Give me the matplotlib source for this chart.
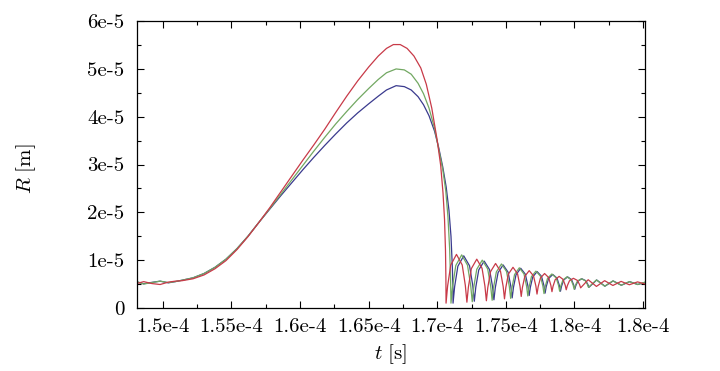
"""
Bubble radius R(t) for three runs - gnuplot-style figure redone in matplotlib
"""

import numpy as np
import matplotlib
matplotlib.use("Agg")
import matplotlib.pyplot as plt
from matplotlib.ticker import MultipleLocator

# ---- data: (t [us], R [um]) ----
red_growth = [
    (148.1, 5.1), (148.6, 5.5), (149.2, 5.1), (149.8, 4.9), (150.4, 5.4), (150.9, 5.6), (151.4, 5.7),
    (152.2, 6.1), (153.0, 6.9), (153.8, 8.2), (154.6, 9.9), (155.4, 12.2), (156.2, 14.9), (157.0, 17.9),
    (157.8, 21.0), (158.6, 24.3), (159.4, 27.6), (160.2, 30.9), (161.0, 34.1), (161.8, 37.4),
    (162.6, 40.9), (163.4, 44.3), (164.2, 47.5), (165.0, 50.4), (165.7, 52.7), (166.3, 54.3),
    (166.8, 55.1), (167.3, 55.1), (167.8, 54.3), (168.3, 52.7), (168.8, 50.2), (169.2, 46.8),
    (169.6, 41.8), (170.0, 35.0), (170.25, 29.8), (170.42, 24.0), (170.53, 18.5), (170.6, 12.0),
    (170.63, 6.0), (170.64, 1.0),
]
red_rebounds = [
    (170.754, 4.57), (170.982, 8.96), (171.40, 11.2), (171.818, 9.0), (172.046, 4.7), (172.16, 1.2),
    (172.268, 4.35), (172.484, 8.22), (172.88, 10.2), (173.265, 8.29), (173.475, 4.55), (173.58, 1.5),
    (173.681, 4.23), (173.882, 7.58), (174.25, 9.3), (174.608, 7.67), (174.803, 4.49), (174.90, 1.9),
    (174.993, 4.21), (175.179, 7.05), (175.52, 8.5), (175.85, 7.16), (176.03, 4.54), (176.12, 2.4),
    (176.207, 4.29), (176.381, 6.61), (176.70, 7.8), (177.014, 6.72), (177.185, 4.62), (177.27, 2.9),
    (177.353, 4.41), (177.518, 6.25), (177.82, 7.2), (178.117, 6.36), (178.279, 4.73), (178.36, 3.4),
    (178.438, 4.52), (178.594, 5.9), (178.88, 6.6), (179.166, 5.98), (179.322, 4.78), (179.40, 3.8),
    (179.478, 4.64), (179.634, 5.67), (179.92, 6.2), (180.212, 5.76), (180.371, 4.9), (180.45, 4.2),
    (181.0, 5.9), (181.6, 4.5), (182.2, 5.7), (182.8, 4.7), (183.4, 5.55), (184.0, 4.85),
    (184.6, 5.45), (185.15, 5.0),
]

green_growth = [
    (148.1, 5.5), (148.6, 5.0), (149.2, 5.3), (149.8, 5.6), (150.4, 5.3), (150.9, 5.5), (151.4, 5.8),
    (152.2, 6.3), (153.0, 7.2), (153.8, 8.5), (154.6, 10.2), (155.4, 12.4), (156.2, 15.0), (157.0, 17.9),
    (157.8, 20.8), (158.6, 23.8), (159.4, 26.8), (160.2, 29.8), (161.0, 32.8), (161.8, 35.7),
    (162.6, 38.5), (163.4, 41.1), (164.2, 43.6), (165.0, 45.9), (165.7, 47.8), (166.3, 49.2),
    (167.0, 50.0), (167.6, 49.8), (168.1, 48.9), (168.6, 47.0), (169.0, 44.8), (169.4, 41.8),
    (169.8, 37.6), (170.1, 33.3), (170.4, 29.0), (170.62, 24.5), (170.78, 19.0), (170.9, 12.5),
    (170.97, 6.0), (171.0, 1.0),
]
green_rebounds = [
    (171.117, 4.54), (171.351, 8.88), (171.78, 11.1), (172.204, 8.94), (172.435, 4.73), (172.55, 1.3),
    (172.66, 4.35), (172.879, 8.09), (173.28, 10.0), (173.676, 8.15), (173.892, 4.54), (174.00, 1.6),
    (174.102, 4.26), (174.306, 7.53), (174.68, 9.2), (175.049, 7.62), (175.25, 4.52), (175.35, 2.0),
    (175.445, 4.24), (175.634, 6.99), (175.98, 8.4), (176.321, 7.1), (176.507, 4.57), (176.60, 2.5),
    (176.689, 4.32), (176.866, 6.56), (177.19, 7.7), (177.515, 6.67), (177.692, 4.65), (177.78, 3.0),
    (177.866, 4.44), (178.037, 6.2), (178.35, 7.1), (178.664, 6.31), (178.835, 4.76), (178.92, 3.5),
    (179.0, 4.55), (179.159, 5.84), (179.45, 6.5), (179.742, 5.93), (179.9, 4.81), (179.98, 3.9),
    (180.058, 4.67), (180.214, 5.62), (180.50, 6.1), (180.786, 5.7), (180.942, 4.93), (181.02, 4.3),
    (181.6, 5.85), (182.2, 4.55), (182.8, 5.65), (183.4, 4.75), (184.0, 5.5), (184.6, 4.9),
    (185.15, 5.4),
]

blue_growth = [
    (148.1, 5.45), (148.6, 5.05), (149.2, 5.35), (149.8, 5.6), (150.4, 5.25), (150.9, 5.5), (151.4, 5.8),
    (152.2, 6.3), (153.0, 7.2), (153.8, 8.5), (154.6, 10.2), (155.4, 12.4), (156.2, 15.0), (157.0, 17.9),
    (157.8, 20.7), (158.6, 23.5), (159.4, 26.2), (160.2, 28.9), (161.0, 31.5), (161.8, 34.0),
    (162.6, 36.4), (163.4, 38.7), (164.2, 40.8), (165.0, 42.7), (165.7, 44.3), (166.3, 45.6),
    (167.0, 46.5), (167.6, 46.3), (168.1, 45.6), (168.6, 44.2), (169.0, 42.5), (169.4, 40.2),
    (169.8, 37.0), (170.1, 33.6), (170.4, 29.5), (170.65, 25.3), (170.85, 20.5), (171.0, 15.0),
    (171.1, 8.5), (171.14, 4.0), (171.15, 1.0),
]
blue_rebounds = [
    (171.267, 4.47), (171.501, 8.72), (171.93, 10.9), (172.354, 8.81), (172.585, 4.73), (172.70, 1.4),
    (172.808, 4.34), (173.024, 7.95), (173.42, 9.8), (173.811, 8.02), (174.024, 4.54), (174.13, 1.7),
    (174.231, 4.26), (174.432, 7.39), (174.80, 9.0), (175.163, 7.48), (175.361, 4.52), (175.46, 2.1),
    (175.553, 4.27), (175.739, 6.94), (176.08, 8.3), (176.421, 7.05), (176.607, 4.6), (176.70, 2.6),
    (176.787, 4.35), (176.961, 6.5), (177.28, 7.6), (177.599, 6.61), (177.773, 4.68), (177.86, 3.1),
    (177.944, 4.47), (178.112, 6.14), (178.42, 7.0), (178.728, 6.23), (178.896, 4.73), (178.98, 3.5),
    (179.058, 4.55), (179.214, 5.84), (179.50, 6.5), (179.786, 5.93), (179.942, 4.81), (180.02, 3.9),
    (180.098, 4.67), (180.254, 5.62), (180.54, 6.1), (180.82, 5.7), (180.974, 4.93), (181.05, 4.3),
    (181.62, 5.85), (182.22, 4.55), (182.82, 5.65), (183.42, 4.75), (184.02, 5.5), (184.62, 4.9),
    (185.15, 5.35),
]

x_ticks = [1.5e-4, 1.55e-4, 1.6e-4, 1.65e-4, 1.7e-4, 1.75e-4, 1.8e-4, 1.85e-4]
x_tick_labels = ["1.5e-4", "1.55e-4", "1.6e-4", "1.65e-4", "1.7e-4", "1.75e-4", "1.8e-4", "1.8e-4"]
y_ticks = [0, 1e-5, 2e-5, 3e-5, 4e-5, 5e-5, 6e-5]
y_tick_labels = ["0", "1e-5", "2e-5", "3e-5", "4e-5", "5e-5", "6e-5"]

# ---- style ----
plt.rcParams["font.family"] = ["cmr10", "DejaVu Serif"]
plt.rcParams["mathtext.fontset"] = "cm"
plt.rcParams["axes.unicode_minus"] = False
plt.rcParams["font.size"] = 15


def to_si(points):
    arr = np.array(points)
    return arr[:, 0] * 1e-6, arr[:, 1] * 1e-6


fig = plt.figure(figsize=(7.2, 3.71), dpi=100)
ax = fig.add_axes([0.190, 0.170, 0.706, 0.773])

curves = [
    (blue_growth + blue_rebounds, "#3a3a8e"),
    (green_growth + green_rebounds, "#72a862"),
    (red_growth + red_rebounds, "#c83a48"),
]
for pts, col in curves:
    t, r = to_si(pts)
    ax.plot(t, r, color=col, lw=0.9)

ax.set_xlim(148.1e-6, 185.15e-6)
ax.set_ylim(0, 6e-5)
ax.set_xticks(x_ticks)
ax.set_xticklabels(x_tick_labels)
ax.set_yticks(y_ticks)
ax.set_yticklabels(y_tick_labels)
ax.xaxis.set_minor_locator(MultipleLocator(2.5e-6))
ax.yaxis.set_minor_locator(MultipleLocator(5e-6))

ax.tick_params(which="both", direction="in", top=True, right=True, width=0.8)
ax.tick_params(which="major", length=5)
ax.tick_params(which="minor", length=3)
ax.tick_params(axis="x", which="major", pad=7)
ax.tick_params(axis="y", which="major", pad=9)
for s in ax.spines.values():
    s.set_linewidth(0.9)

ax.set_xlabel(r"$t\ [\mathrm{s}]$")
ax.set_ylabel(r"$R\ [\mathrm{m}]$")
ax.xaxis.set_label_coords(0.5, -0.12)
ax.yaxis.set_label_coords(-0.195, 0.485)

fig.savefig("out.png", dpi=100)
